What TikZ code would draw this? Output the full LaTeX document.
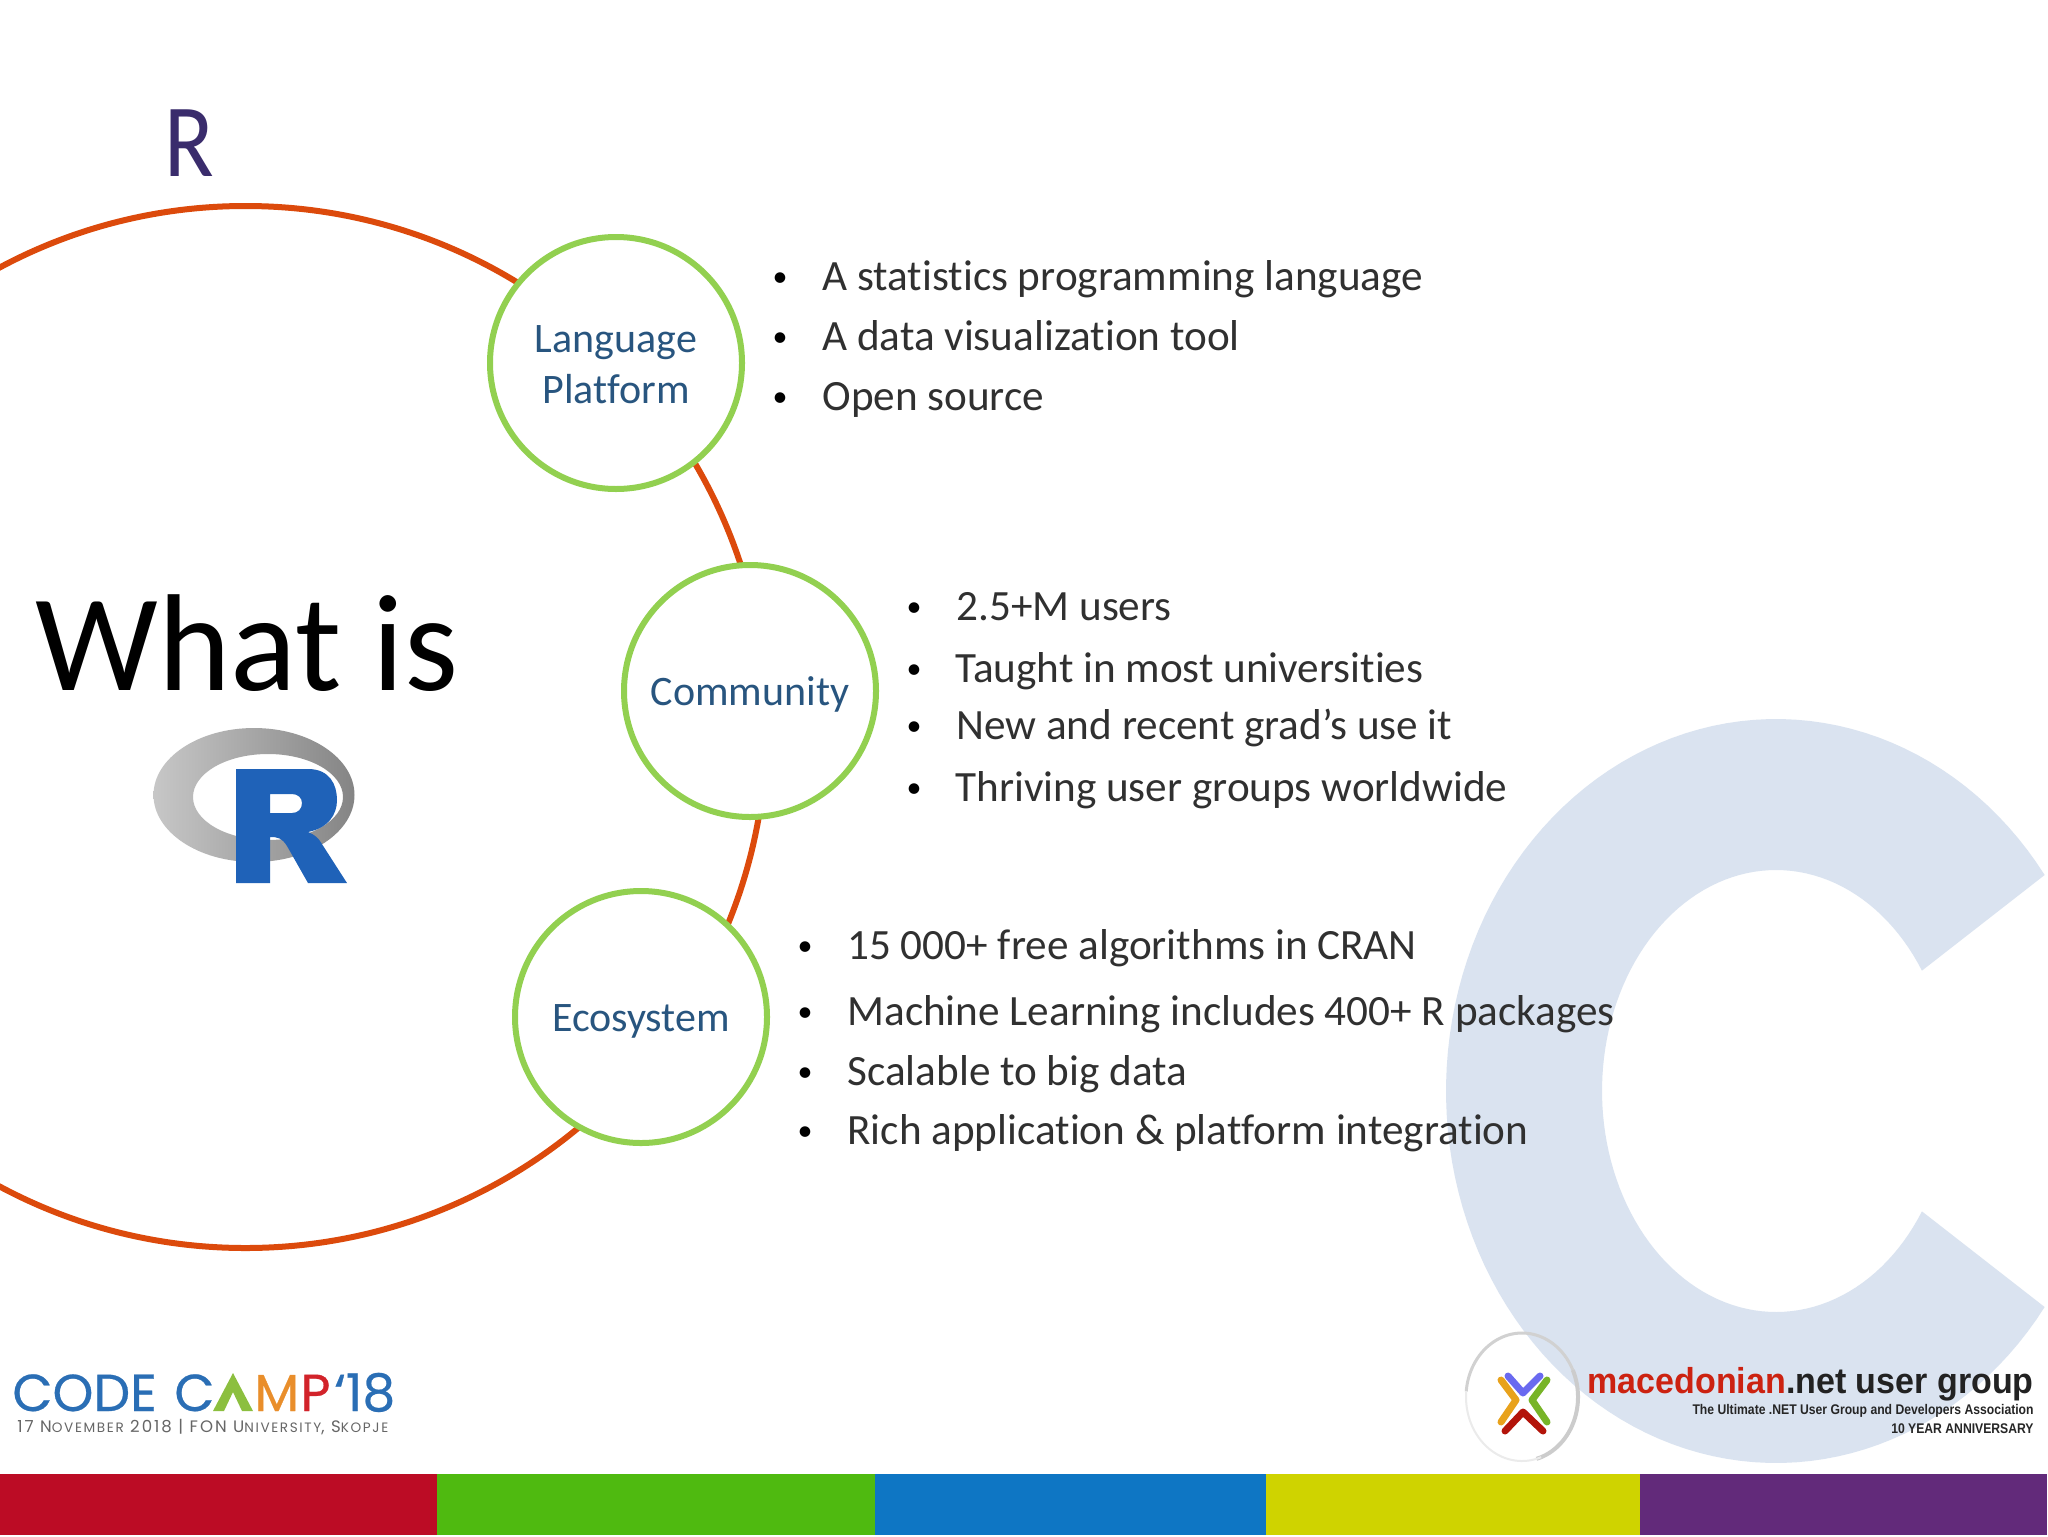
\documentclass[tikz,border=0pt]{standalone}
\usepackage{fontspec}
\setmainfont{Carlito}[Ligatures=NoCommon]
\newfontfamily\camp[FakeBold=0.5]{Poppins}
\newfontfamily\campsub[LetterSpace=12]{Poppins}
\newfontfamily\arialb{Liberation Sans}[BoldFont={Liberation Sans Bold}]
\usetikzlibrary{shapes.geometric}
\definecolor{ringorange}{HTML}{DC4A0C}
\definecolor{ringgreen}{HTML}{92D050}
\definecolor{labelblue}{HTML}{28557F}
\definecolor{titlenavy}{HTML}{3A2C6C}
\definecolor{bodyink}{HTML}{303030}
\definecolor{paleC}{HTML}{DAE3F0}
\definecolor{campblue}{HTML}{2A6EB5}
\definecolor{rblue}{HTML}{1F62B8}
\newcommand{\smc}[1]{{\fontsize{6.8pt}{8pt}\selectfont #1}}
\tikzset{
  x=0.5pt,y=-0.5pt,
  topic/.style={circle,draw=ringgreen,fill=white,line width=3pt,minimum size=126pt,inner sep=0pt},
  toplabel/.style={anchor=base,text=labelblue,font=\fontsize{21pt}{21pt}\selectfont,inner sep=0pt},
  bodytext/.style={anchor=base west,text=bodyink,font=\fontsize{21.6pt}{21.6pt}\selectfont,inner sep=0pt},
  bulletmark/.style={anchor=base,yshift=2pt,text=black,font=\fontsize{15pt}{15pt}\selectfont,inner sep=0pt},
  camptext/.style={anchor=base west,inner sep=0pt,font=\camp\fontsize{26pt}{26pt}\selectfont},
  chevron/.style={line width=3.5pt,line cap=round,line join=round},
  stripe/.style={draw=none},
}
\begin{document}
\begin{tikzpicture}
\useasboundingbox (0,0) rectangle (2048,1536);
\fill[white] (0,0) rectangle (2048,1536);
% pale C
\fill[paleC] plot[domain=35.5:324.5,samples=120] ({1776+330*cos(\x)},{1091-372*sin(\x)})
  -- plot[domain=327:33,samples=120] ({1776+174*cos(\x)},{1091-221*sin(\x)}) -- cycle;
% main ring
\node[circle,draw=ringorange,line width=3pt,minimum size=521pt,inner sep=0pt] (bigring) at (245.5,727) {};
% topic circles
\node[topic] (lang) at (616,363) {};
\node[topic] (comm) at (750,691) {};
\node[topic] (eco) at (641,1017) {};
\node[toplabel] (lang1) at (616,352) {Language};
\node[toplabel] (lang2) at (616,403) {Platform};
\node[toplabel] (commlab) at (750,705) {Community};
\node[toplabel] (ecolab) at (641,1031) {Ecosystem};
% titles
\node[anchor=base,inner sep=0pt,text=titlenavy,font=\fontsize{52pt}{52pt}\selectfont] (rtitle) at (189.5,176) {\scalebox{.88}[1]{R}};
\node[anchor=base,inner sep=0pt,text=black,font=\fontsize{69pt}{69pt}\selectfont] (whatis) at (247,690) {What is};
% bullets 1
\node[bulletmark] (b11) at (780,290) {•}; \node[bodytext] (t11) at (822,290) {A statistics programming language};
\node[bulletmark] (b12) at (780,350) {•}; \node[bodytext] (t12) at (822,350) {A data visualization tool};
\node[bulletmark] (b13) at (780,410) {•}; \node[bodytext] (t13) at (822,410) {Open source};
% bullets 2
\node[bulletmark] (b21) at (914,620) {•}; \node[bodytext] (t21) at (956,620) {2.5+M users};
\node[bulletmark] (b22) at (914,682) {•}; \node[bodytext] (t22) at (955,682) {Taught in most universities};
\node[bulletmark] (b23) at (914,739) {•}; \node[bodytext] (t23) at (956,739) {New and recent grad’s use it};
\node[bulletmark] (b24) at (914,801) {•}; \node[bodytext] (t24) at (955,801) {Thriving user groups worldwide};
% bullets 3
\node[bulletmark] (b31) at (805,959) {•}; \node[bodytext] (t31) at (847,959) {15 000+ free algorithms in CRAN};
\node[bulletmark] (b32) at (805,1025) {•}; \node[bodytext] (t32) at (847,1025) {Machine Learning includes 400+ R packages};
\node[bulletmark] (b33) at (805,1085) {•}; \node[bodytext] (t33) at (847,1085) {Scalable to big data};
\node[bulletmark] (b34) at (805,1144) {•}; \node[bodytext] (t34) at (847,1144) {Rich application \& platform integration};
% R logo
\shade[even odd rule,left color=black!22,right color=black!48]
  (254,795) ellipse[x radius=100.5pt/2,y radius=67pt/2]
  (268,797) ellipse[x radius=75pt/2,y radius=43pt/2];
\fill[rblue,even odd rule] (236,769) -- (308,769) .. controls (330,769) and (337,785) .. (337,800)
  .. controls (337,815) and (328,828) .. (308,832) .. controls (315,835) and (318,838) .. (320,841)
  -- (347,883) -- (308,883) -- (287,846) .. controls (282,838) and (278,837) .. (270,837) -- (270,883) -- (236,883) -- cycle
  (270,794) -- (270,813) -- (292,813) .. controls (298,813) and (302,809) .. (302,803) .. controls (302,798) and (298,794) .. (292,794) -- cycle;
% stripes
\fill[stripe,fill={rgb,255:red,188;green,12;blue,37}] (0,1474) rectangle (437,1535);
\fill[stripe,fill={rgb,255:red,79;green,186;blue,16}] (437,1474) rectangle (875,1535);
\fill[stripe,fill={rgb,255:red,14;green,118;blue,196}] (875,1474) rectangle (1266,1535);
\fill[stripe,fill={rgb,255:red,207;green,211;blue,0}] (1266,1474) rectangle (1640,1535);
\fill[stripe,fill={rgb,255:red,98;green,42;blue,122}] (1640,1474) rectangle (2047,1535);
% code camp logo
\node[camptext,text=campblue] (cc0) at (12,1411) {CODE};
\node[camptext,text=campblue] (cc1) at (174,1411) {C};
\fill[fill={rgb,255:red,140;green,191;blue,63}] (213,1411) -- (233,1373) -- (253,1411) -- (242,1411) -- (233,1392) -- (224,1411) -- cycle;
\node[camptext,text={rgb,255:red,233;green,142;blue,43}] (cc2) at (254,1411) {M};
\node[camptext,text={rgb,255:red,210;green,35;blue,42}] (cc3) at (300,1411) {P};
\node[camptext,text=campblue] (cc4) at (334,1411) {‘18};
\node[anchor=base west,inner sep=0pt,text=black!60,font=\campsub\fontsize{8.3pt}{9pt}\selectfont] (ccsub) at (17,1432)
  {17 N\smc{OVEMBER} 2018 | FON U\smc{NIVERSITY}, S\smc{KOPJE}};
% mk ring
\draw[black!18,line width=1.5pt] plot[domain=25:175,samples=60] ({1522+56*cos(\x)},{1397-64*sin(\x)});
\draw[black!20,line width=2pt] plot[domain=-75:25,samples=40] ({1522+56*cos(\x)},{1397-64*sin(\x)});
\draw[black!8,line width=1pt] plot[domain=175:290,samples=40] ({1522+56*cos(\x)},{1397-64*sin(\x)});
% X mark
\draw[chevron,draw={rgb,255:red,106;green,106;blue,240}] (1508,1376) -- (1523,1393) -- (1540,1376);
\draw[chevron,draw={rgb,255:red,179;green,20;blue,10}] (1505,1431) -- (1523,1412) -- (1543,1431);
\draw[chevron,draw={rgb,255:red,232;green,162;blue,28}] (1501,1380) -- (1516,1400) -- (1501,1422);
\draw[chevron,draw={rgb,255:red,120;green,180;blue,40}] (1547,1380) -- (1532,1400) -- (1547,1422);
% mk text
\node[anchor=base east,inner sep=0pt,font=\arialb\bfseries\fontsize{18pt}{18pt}\selectfont] (mk1) at (2034,1393) {\scalebox{.945}[1]{\textcolor[HTML]{CC2211}{macedonian}\textcolor[HTML]{222222}{.net user group}}};
\node[anchor=base east,inner sep=0pt,text=black!85,font=\arialb\bfseries\fontsize{7pt}{7pt}\selectfont] (mk2) at (2034,1414) {\scalebox{.87}[1]{The Ultimate .NET User Group and Developers Association}};
\node[anchor=base east,inner sep=0pt,text=black!85,font=\arialb\bfseries\fontsize{7pt}{7pt}\selectfont] (mk3) at (2034,1433) {\scalebox{.87}[1]{10 YEAR ANNIVERSARY}};
\end{tikzpicture}
\end{document}
